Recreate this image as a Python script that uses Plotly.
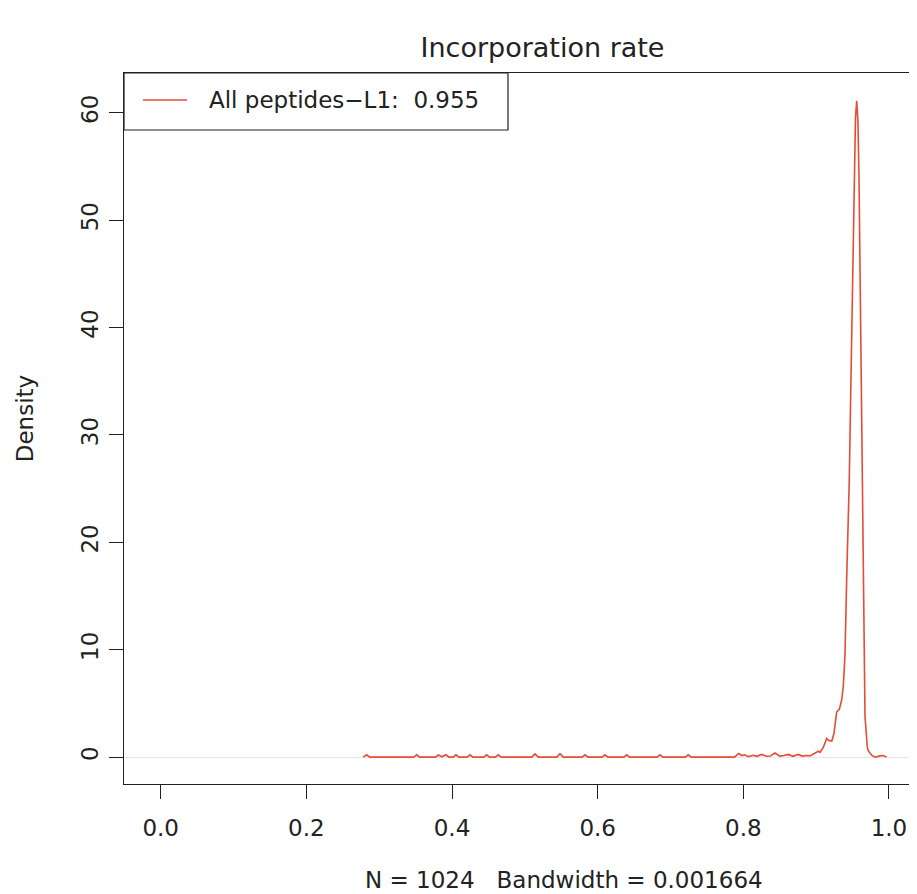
import plotly.graph_objects as go

# kernel density of incorporation rate, vertices
dens_x = [
    0.2780, 0.2829, 0.2870,
    0.3475, 0.3515, 0.3555,
    0.3772, 0.3812, 0.3862, 0.3917, 0.3960,
    0.4015, 0.4055, 0.4095,
    0.4207, 0.4247, 0.4287,
    0.4436, 0.4476, 0.4516,
    0.4595, 0.4635, 0.4675,
    0.5095, 0.5139, 0.5185,
    0.5440, 0.5483, 0.5528,
    0.5786, 0.5826, 0.5866,
    0.6060, 0.6100, 0.6140,
    0.6359, 0.6399, 0.6439,
    0.6817, 0.6857, 0.6897,
    0.7204, 0.7244, 0.7284,
    0.7880, 0.7935, 0.7980, 0.8020, 0.8070, 0.8137, 0.8185, 0.8252,
    0.8320, 0.8370, 0.8435, 0.8500, 0.8555, 0.8618, 0.8680, 0.8755,
    0.8810, 0.8865, 0.8915, 0.8984, 0.9030, 0.9053, 0.9098, 0.9120,
    0.9145, 0.9175, 0.9215, 0.9245, 0.9268, 0.9282, 0.9318, 0.9350,
    0.9373, 0.9396, 0.9419, 0.9455, 0.9478, 0.9502, 0.9520, 0.9540,
    0.9557, 0.9575, 0.9589, 0.9603, 0.9617, 0.9630, 0.9648, 0.9657,
    0.9671, 0.9702, 0.9716, 0.9762, 0.9808, 0.9876, 0.9922, 0.9969,
]
dens_y = [
    0.00, 0.22, 0.00,
    0.00, 0.22, 0.00,
    0.00, 0.20, 0.03, 0.22, 0.00,
    0.00, 0.22, 0.00,
    0.00, 0.22, 0.00,
    0.00, 0.22, 0.00,
    0.00, 0.22, 0.00,
    0.00, 0.30, 0.00,
    0.00, 0.32, 0.00,
    0.00, 0.22, 0.00,
    0.00, 0.22, 0.00,
    0.00, 0.22, 0.00,
    0.00, 0.22, 0.00,
    0.00, 0.22, 0.00,
    0.00, 0.35, 0.15, 0.22, 0.05, 0.18, 0.08, 0.25,
    0.08, 0.10, 0.38, 0.10, 0.15, 0.25, 0.08, 0.25,
    0.10, 0.15, 0.12, 0.35, 0.55, 0.45, 0.90, 1.30,
    1.75, 1.55, 1.50, 2.20, 3.60, 4.20, 4.45, 5.30,
    6.60, 9.50, 16.5, 25.8, 35.1, 44.5, 53.8, 59.5,
    61.1, 59.0, 53.8, 44.5, 35.1, 25.8, 16.5, 9.00,
    3.80, 0.96, 0.60, 0.19, 0.00, 0.12, 0.15, 0.00,
]

x_ticks = [0.0, 0.2, 0.4, 0.6, 0.8, 1.0]
y_ticks = [0, 10, 20, 30, 40, 50, 60]
legend_label = "All peptides\u2212L1:\u00a0 0.955"
x_label = "N = 1024\u00a0\u00a0 Bandwidth = 0.001664"

line_col = "#e64b35"
ink = "#222222"
font = "DejaVu Sans"
txt = dict(size=23, color=ink, family=font)

fig = go.Figure()
fig.add_trace(go.Scatter(x=dens_x, y=dens_y, mode="lines", name=legend_label,
                         line=dict(color=line_col, width=1.6), showlegend=False))

fig.update_xaxes(range=[-0.0504, 1.0385], tickvals=x_ticks, tickformat=".1f",
                 ticks="outside", ticklen=14, tickwidth=1.2, tickcolor=ink,
                 showline=True, linecolor=ink, linewidth=1.2, mirror=True,
                 showgrid=False, zeroline=False, automargin=False,
                 ticklabelstandoff=9, tickfont=txt)
fig.update_yaxes(range=[-2.5, 63.7], tickvals=y_ticks, tickangle=-90,
                 ticks="outside", ticklen=14, tickwidth=1.2, tickcolor=ink,
                 showline=True, linecolor=ink, linewidth=1.2, mirror=False,
                 showgrid=False, zeroline=True, zerolinecolor="#e6e6e6", zerolinewidth=1,
                 automargin=False, ticklabelstandoff=2, tickfont=txt)

# axis titles
fig.add_annotation(text=x_label, xref="paper", yref="paper", x=0.5549, y=-0.135,
                   xanchor="center", yanchor="middle", showarrow=False, font=txt)
fig.add_annotation(text="Density", xref="paper", yref="paper", x=-0.1248, y=0.513,
                   xanchor="center", yanchor="middle", textangle=-90, showarrow=False, font=txt)

# legend box drawn like R's legend("topleft")
fig.add_shape(type="rect", xref="paper", yref="paper", x0=0, x1=0.4842, y0=0.9198, y1=1,
              line=dict(color=ink, width=1.2), fillcolor="white", layer="above")
fig.add_shape(type="line", xref="paper", yref="paper", x0=0.024, x1=0.0794, y0=0.962, y1=0.962,
              line=dict(color=line_col, width=1.6), layer="above")
fig.add_annotation(text=legend_label, xref="paper", yref="paper", x=0.1047, y=0.962,
                   xanchor="left", yanchor="middle", showarrow=False, font=txt)

# page body has an 8px margin, so the figure is drawn 8px smaller
fig.update_layout(
    width=909, height=886,
    margin=dict(l=116, r=0, t=65, b=110),
    paper_bgcolor="white", plot_bgcolor="white",
    font=dict(family=font, color=ink),
    title=dict(text="Incorporation rate", x=0.588, xref="container", xanchor="center",
               y=0.9556, yref="container", yanchor="middle",
               font=dict(size=27, color=ink, family=font)),
)

fig.write_html("out.html")
